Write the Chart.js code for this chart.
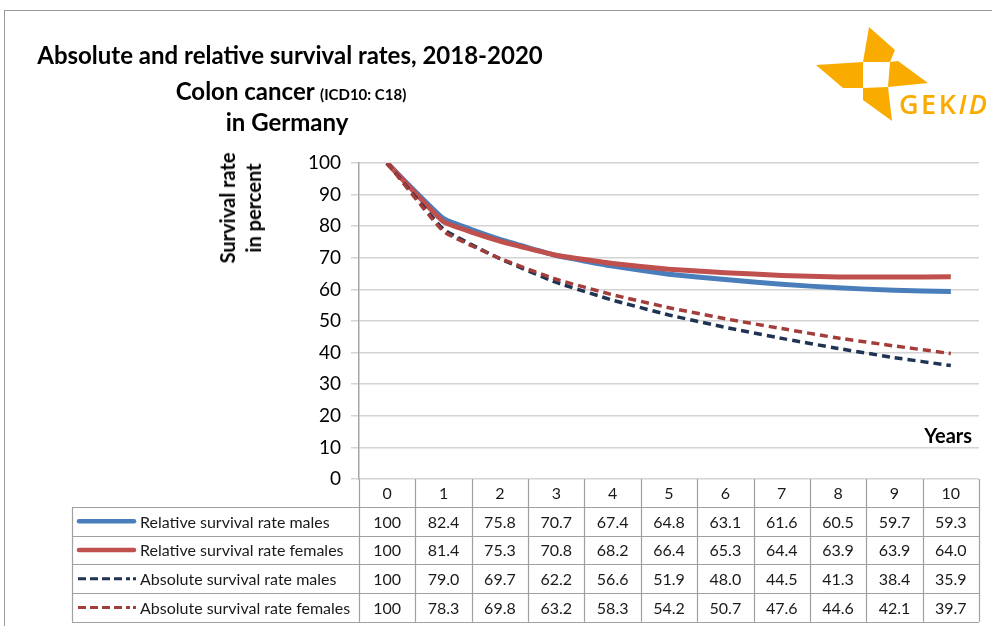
<!DOCTYPE html>
<html><head><meta charset="utf-8">
<script src="https://cdn.jsdelivr.net/npm/chart.js@4/dist/chart.umd.min.js"></script>
<style>
html,body{margin:0;padding:0;background:#fff;}
#wrap{position:relative;width:992px;height:626px;overflow:hidden;font-family:Lato,"Open Sans",sans-serif;}
#frame{position:absolute;left:4px;top:10px;width:1100px;height:800px;border-left:1.5px solid #9a9a9a;border-top:1.5px solid #9a9a9a;}
#c{position:absolute;left:0;top:0;}
.t{position:absolute;font-weight:bold;color:#000;white-space:nowrap;transform:translateX(-50%);}
#ytitle{position:absolute;left:240px;top:208px;transform:translate(-50%,-50%) rotate(-90deg);font-weight:bold;font-size:20px;line-height:26px;text-align:center;white-space:nowrap;}
#logo{position:absolute;left:0;top:0;}
#gekid{position:absolute;left:899px;top:85px;font-family:"Open Sans",sans-serif;font-weight:600;font-size:27px;color:#f9ab00;letter-spacing:2.5px;}
</style></head>
<body><div id="wrap"><div id="frame"></div>
<canvas id="c" width="992" height="626"></canvas>
<div class="t" style="left:290px;top:40px;font-size:24px">Absolute and relative survival rates, 2018-2020</div>
<div class="t" style="left:291px;top:76px;font-size:24px">Colon cancer <span style="font-size:15px">(ICD10: C18)</span></div>
<div class="t" style="left:287px;top:107px;font-size:24px">in Germany</div>
<div id="ytitle">Survival rate<br>in percent</div>
<svg id="logo" width="992" height="140">
<g fill="#f9ab00">
<polygon points="869,27 895,50 890,62 863,62"/>
<polygon points="890,62 898,61 928,83 888,87"/>
<polygon points="863,88 888,87 892,121 863,100"/>
<polygon points="816,65 863,62 863,88 843,88"/>
</g></svg>
<div id="gekid">GEK<i>ID</i></div>
</div>
<script>
const years = ['0','1','2','3','4','5','6','7','8','9','10'];
const seriesNames = ['Relative survival rate males','Relative survival rate females','Absolute survival rate males','Absolute survival rate females'];
const relMales   = [100,82.4,75.8,70.7,67.4,64.8,63.1,61.6,60.5,59.7,59.3];
const relFemales = [100,81.4,75.3,70.8,68.2,66.4,65.3,64.4,63.9,63.9,64.0];
const absMales   = [100,79.0,69.7,62.2,56.6,51.9,48.0,44.5,41.3,38.4,35.9];
const absFemales = [100,78.3,69.8,63.2,58.3,54.2,50.7,47.6,44.6,42.1,39.7];
const yTicks = [0,10,20,30,40,50,60,70,80,90,100];

const colors = ['#4a7ebb','#c0504d','#1f3352','#a33d3a'];
const widths = [5,5,3.5,3.5];
const dashes = [[],[],[8,5],[8,5]];
const allData = [relMales,relFemales,absMales,absFemales];

const tablePlugin = {
  id:'table',
  afterDraw(chart){
    const ctx = chart.ctx, x = chart.scales.x, ca = chart.chartArea;
    const colW = x.getPixelForValue(1) - x.getPixelForValue(0);
    const left = 72, top = ca.bottom, headH = 28, rowH = 28.7;
    const right = ca.right;
    ctx.save();
    ctx.strokeStyle = '#a0a0a0'; ctx.lineWidth = 1.2;
    for(let i=0;i<=years.length;i++){
      const px = Math.round(x.getPixelForValue(0) - colW/2 + i*colW)+0.5;
      ctx.beginPath(); ctx.moveTo(px, top); ctx.lineTo(px, top+headH+rowH*4); ctx.stroke();
    }
    ctx.beginPath(); ctx.moveTo(left+0.5, top+headH); ctx.lineTo(left+0.5, top+headH+rowH*4); ctx.stroke();
    for(let r=0;r<=4;r++){
      const py = Math.round(top+headH+r*rowH)+0.5;
      ctx.beginPath(); ctx.moveTo(left, py); ctx.lineTo(right, py); ctx.stroke();
    }
    ctx.fillStyle = '#1a1a1a';
    ctx.textAlign='center'; ctx.textBaseline='middle';
    ctx.font = '16px Lato';
    years.forEach((y,i)=>ctx.fillText(y, x.getPixelForValue(i), top+headH/2+1));
    allData.forEach((arr,r)=>{
      const cy = top+headH+r*rowH+rowH/2+1;
      arr.forEach((v,i)=>{
        const s = (v===100)?'100':v.toFixed(1);
        ctx.fillText(s, x.getPixelForValue(i), cy);
      });
      ctx.save();
      ctx.strokeStyle = colors[r]; ctx.lineWidth = r<2?4.5:3;
      if(r<2){
        ctx.lineCap='round';
        ctx.beginPath(); ctx.moveTo(79, cy-1); ctx.lineTo(134, cy-1); ctx.stroke();
      } else {
        ctx.setLineDash([8,4]);
        ctx.beginPath(); ctx.moveTo(78, cy-1); ctx.lineTo(130, cy-1); ctx.stroke();
        ctx.setLineDash([]);
        ctx.beginPath(); ctx.moveTo(133, cy-1); ctx.lineTo(136, cy-1); ctx.stroke();
      }
      ctx.restore();
      ctx.textAlign='left'; ctx.font='16px Lato';
      ctx.fillText(seriesNames[r], 140, cy);
      ctx.textAlign='center'; ctx.font='16px Lato';
    });
    ctx.font='bold 20px Lato'; ctx.textAlign='right'; ctx.fillStyle='#000';
    ctx.fillText('Years', 972, 437);
    ctx.restore();
  }
};

new Chart(document.getElementById('c'), {
  type:'line',
  data:{
    labels: years,
    datasets: allData.map((d,i)=>({
      label: seriesNames[i], data: d,
      borderColor: colors[i], backgroundColor: colors[i],
      borderWidth: widths[i], borderDash: dashes[i],
      pointRadius:0, tension:0.1, fill:false,
      order: [4,3,2,1][i]
    }))
  },
  options:{
    responsive:false, animation:false, devicePixelRatio:1,
    layout:{padding:{left:0,right:13,top:163,bottom:147}},
    plugins:{legend:{display:false},tooltip:{enabled:false},title:{display:false}},
    scales:{
      x:{display:false, offset:true},
      y:{
        min:0,max:100,
        afterFit(s){ s.width = 359; },
        afterBuildTicks(s){ s.ticks = yTicks.map(v=>({value:v})); },
        ticks:{color:'#000',font:{family:'Lato',size:19},padding:10},
        grid:{color:'#d4d4d4',lineWidth:1.5,tickLength:8,drawTicks:true},
        border:{color:'#a6a6a6',width:1.5}
      }
    }
  },
  plugins:[tablePlugin]
});
</script>
</body></html>
